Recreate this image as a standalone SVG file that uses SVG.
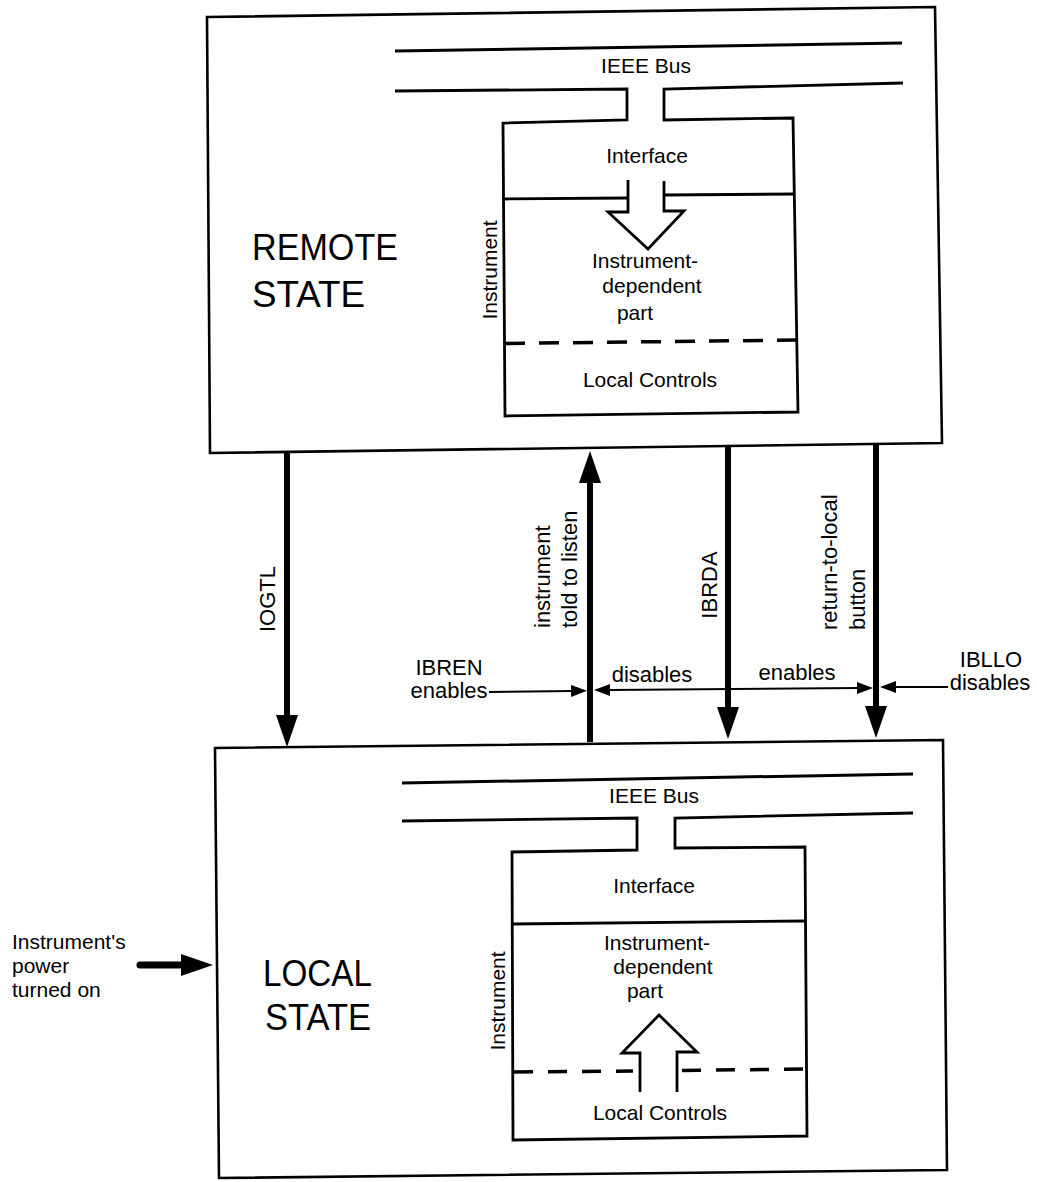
<svg xmlns="http://www.w3.org/2000/svg" width="1037" height="1182" viewBox="0 0 1037 1182">
<defs>
<style>
.box{fill:none;stroke:#000;stroke-width:2.6;stroke-linejoin:miter}
.ln{fill:none;stroke:#000;stroke-width:2.8;stroke-linejoin:miter}
.bus{fill:none;stroke:#000;stroke-width:3}
.dashA{fill:none;stroke:#000;stroke-width:3.5;stroke-dasharray:20 14}
.dashB{fill:none;stroke:#000;stroke-width:3.5;stroke-dasharray:19 15}
.t{font-family:"Liberation Sans",Arial,sans-serif;font-size:21px;fill:#000}
.lbl{font-family:"Liberation Sans",Arial,sans-serif;font-size:22px;fill:#000}
.big{font-family:"Liberation Sans",Arial,sans-serif;font-size:37px;fill:#000}
.mid{text-anchor:middle}
.thick{fill:none;stroke:#000;stroke-width:6;marker-end:url(#bigHead)}
.thin{fill:none;stroke:#000;stroke-width:2.2}
</style>
<marker id="bigHead" markerUnits="userSpaceOnUse" viewBox="0 -12 34 24" markerWidth="34" markerHeight="24" refX="1" refY="0" orient="auto"><path d="M0,-11 L32,0 L0,11 Z" fill="#000"/></marker>
<marker id="smallHead" markerUnits="userSpaceOnUse" viewBox="0 -7 17 14" markerWidth="17" markerHeight="14" refX="1" refY="0" orient="auto-start-reverse"><path d="M0,-6 L16,0 L0,6 Z" fill="#000"/></marker>
</defs>
<rect width="1037" height="1182" fill="#fff"/>

<g id="remote-state">
<path class="box" d="M207,17 L935,7 L942,443 L210,453 Z"/>
<text class="big" x="252" y="260" textLength="146" lengthAdjust="spacingAndGlyphs">REMOTE</text>
<text class="big" x="252" y="307" textLength="113" lengthAdjust="spacingAndGlyphs">STATE</text>
<g id="remote-instrument">
<path class="bus" d="M395,51 L902,43"/>
<text class="t mid" x="646" y="73">IEEE Bus</text>
<path class="ln" d="M395,91 L627,89 L627,120 L503,123 L505,416 L798,412 L793,118 L664,120 L664,89 L903,83"/>
<path class="ln" d="M504,199 L628,198 M664,195 L795,194"/>
<path class="ln" d="M628,180 L628,212 L608,212 L648,249 L684,211 L664,211 L664,181"/>
<path class="dashA" d="M505,343.5 L797,340"/>
<text class="t mid" x="647" y="163">Interface</text>
<text class="t mid" x="645" y="268">Instrument-</text>
<text class="t mid" x="652" y="293">dependent</text>
<text class="t mid" x="635" y="320">part</text>
<text class="t mid" x="650" y="387">Local Controls</text>
<text class="t mid" transform="translate(497,270) rotate(-90)">Instrument</text>
</g>
</g>

<g id="local-state">
<path class="box" d="M215,748 L943,740 L947,1170 L219,1178 Z"/>
<text class="big" x="263" y="986" textLength="109" lengthAdjust="spacingAndGlyphs">LOCAL</text>
<text class="big" x="265" y="1030" textLength="106" lengthAdjust="spacingAndGlyphs">STATE</text>
<g id="local-instrument">
<path class="bus" d="M402,783 L913,774"/>
<text class="t mid" x="654" y="803">IEEE Bus</text>
<path class="ln" d="M402,821 L637,818 L637,850 L512,852 L513,1140 L807,1136 L805,847 L675,848 L675,818 L913,813"/>
<path class="ln" d="M512,924 L805,921"/>
<path class="ln" d="M640,1092 L640,1053 L622,1053 L659,1015 L697,1052 L677,1052 L677,1092"/>
<path class="dashB" d="M514,1072 L633,1071"/>
<path class="dashB" d="M682,1070.5 L805,1069"/>
<text class="t mid" x="654" y="893">Interface</text>
<text class="t mid" x="657" y="950">Instrument-</text>
<text class="t mid" x="663" y="974">dependent</text>
<text class="t mid" x="645" y="998">part</text>
<text class="t mid" x="660" y="1120">Local Controls</text>
<text class="t mid" transform="translate(505,1001) rotate(-90)">Instrument</text>
</g>
</g>

<g id="power-on">
<text class="t" x="12" y="949">Instrument's</text>
<text class="t" x="12" y="973">power</text>
<text class="t" x="12" y="997">turned on</text>
</g>

<g id="connectors">
<path class="thick" style="stroke-width:7;stroke-linecap:round" d="M140,965 L182,965"/>
<path class="thick" d="M287,453 L287,716"/>
<text class="lbl mid" transform="translate(275,599) rotate(-90)">IOGTL</text>
<path class="thick" d="M590,742 L590,482"/>
<text class="lbl" transform="translate(550,628) rotate(-90)">instrument</text>
<text class="lbl" transform="translate(577,628) rotate(-90)">told to listen</text>
<path class="thick" d="M728,447 L728,708"/>
<text class="lbl mid" transform="translate(717,585) rotate(-90)">IBRDA</text>
<path class="thick" d="M876,445 L876,707"/>
<text class="lbl" transform="translate(837,630) rotate(-90)">return-to-local</text>
<text class="lbl" transform="translate(865,630) rotate(-90)">button</text>
<path class="thin" marker-end="url(#smallHead)" d="M489,692 L572,691"/>
<path class="thin" marker-start="url(#smallHead)" marker-end="url(#smallHead)" d="M609,690 L858,688"/>
<path class="thin" marker-end="url(#smallHead)" d="M948,687 L895,687"/>
<text class="lbl mid" x="449" y="675">IBREN</text>
<text class="lbl mid" x="449" y="698">enables</text>
<text class="lbl mid" x="652" y="682">disables</text>
<text class="lbl mid" x="797" y="680">enables</text>
<text class="lbl mid" x="991" y="667">IBLLO</text>
<text class="lbl mid" x="990" y="690">disables</text>
</g>
</svg>
